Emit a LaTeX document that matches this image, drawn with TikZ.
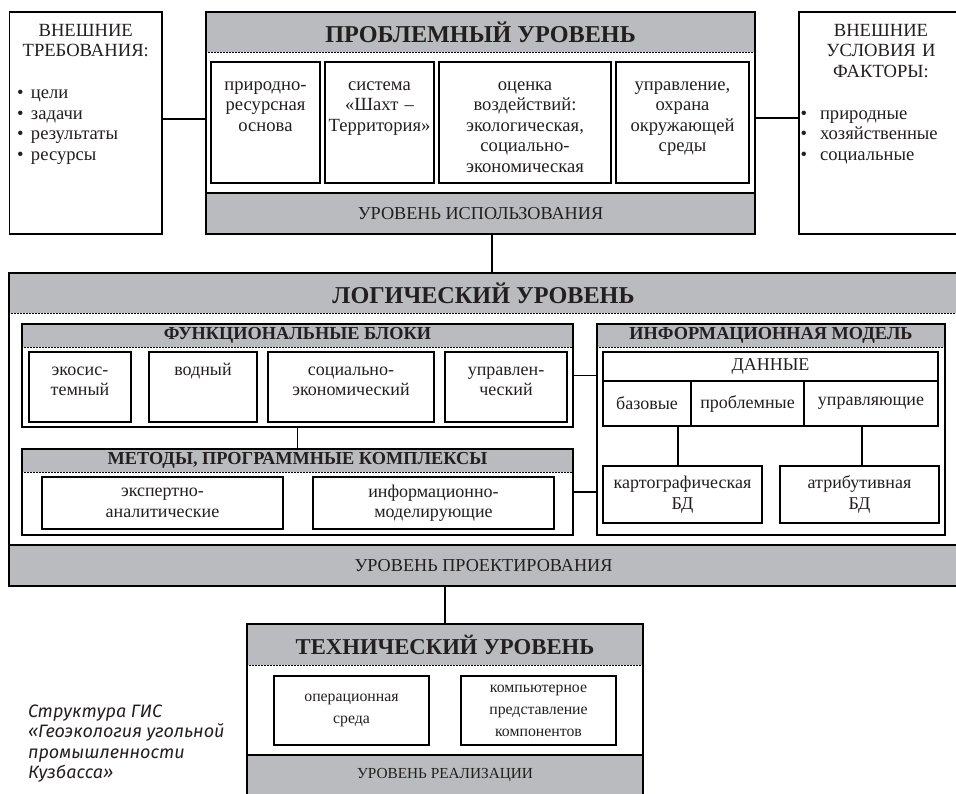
\documentclass[tikz,border=0pt]{standalone}
\usepackage{fontspec}
\setmainfont{Liberation Serif}
\newfontfamily\capfamily{Fira Sans}
\usetikzlibrary{positioning, calc}
\definecolor{bandgray}{RGB}{185,187,190}
\definecolor{ink}{RGB}{35,31,32}
\newcommand{\levelfont}{\fontsize{24.2}{26}\selectfont\bfseries}
\newcommand{\techfont}{\fontsize{22.7}{24}\selectfont\bfseries}
\newcommand{\blockfont}{\fontsize{18.3}{20}\selectfont\bfseries}
\newcommand{\bandfont}{\fontsize{18.2}{20}\selectfont}
\newcommand{\bodyfont}{\fontsize{18.6}{20.5}\selectfont}
\newcommand{\smallbody}{\fontsize{18}{20.5}\selectfont}
\newcommand{\techbody}{\fontsize{15.8}{22}\selectfont}
\newcommand{\capfont}{\fontsize{18}{20.2}\selectfont\capfamily\itshape}
\newcommand{\bul}[1][14pt]{\makebox[#1][l]{\textbullet}}

\begin{document}
\begin{tikzpicture}[
    x=1pt, y=-1pt,
    every node/.style={inner sep=0pt, outer sep=0pt, text=ink},
    area/.style={rectangle, anchor=north west, fill=white},
    frame/.style={draw=black, line width=1.5pt},
    subframe/.style={draw=black, line width=1.3pt},
    band/.style={rectangle, anchor=north west, fill=bandgray, align=center},
    rule/.style={draw=black, line width=1.8pt},
    sep/.style={densely dotted, line width=0.5pt},
    cell/.style={rectangle, anchor=north west, draw=black, line width=1.3pt,
        fill=white, align=center, font=\smallbody},
    topcell/.style 2 args={cell, text height=#1, text depth=#2},
    link/.style={draw=black, line width=1.2pt}
]
    \useasboundingbox (0,0) rectangle (956,793);
    \clip (0,0) rectangle (956,793);

    % --- outer requirements and conditions ---
    \node[area, frame, text width=152.5, text height=24, text depth=198, font=\bodyfont] (reqs) at (9.5,12) {%
        {\centering ВНЕШНИЕ\\ТРЕБОВАНИЯ:\par}
        \vspace{21.5pt}
        {\leftskip=7.5pt \bul цели\\ \bul задачи\\ \bul результаты\\ \bul ресурсы\par}};

    \node[area, frame, text width=164, text height=24, text depth=198, font=\bodyfont] (conds) at (799,12) {%
        {\centering ВНЕШНИЕ\\УСЛОВИЯ И\\ФАКТОРЫ:\par}
        \vspace{21.5pt}
        {\leftskip=1.5pt \bul[19.5pt]природные\\ \bul[19.5pt]хозяйственные\\ \bul[19.5pt]социальные\par}};

    % --- 1) problem level ---
    \node[area, minimum width=549, minimum height=222] (prob) at (206,12) {};
    \node[band, minimum width=549, minimum height=40, font=\levelfont] (probhead) at (prob.north west) {ПРОБЛЕМНЫЙ УРОВЕНЬ};
    \draw[sep] (probhead.south west) -- (probhead.south east);
    \node[band, minimum width=549, minimum height=41, font=\bandfont, anchor=south west] (probuse) at (prob.south west) {УРОВЕНЬ ИСПОЛЬЗОВАНИЯ};

    \node[topcell={28}{93}, text width=109, font=\bodyfont] (natural) at (211,62) {природно-\\ресурсная\\основа};
    \node[topcell={28}{93}, text width=109, font=\bodyfont] (mine) at (325,62) {система\\«Шахт --\\Территория»};
    \node[topcell={28}{93}, text width=172, font=\bodyfont] (impact) at (439,62) {оценка\\воздействий:\\экологическая,\\социально-\\экономическая};
    \node[topcell={28}{93}, text width=133, font=\bodyfont] (protect) at (616,62) {управление,\\охрана\\окружающей\\среды};

    \draw[frame] (prob.north west) rectangle (prob.south east);
    \draw[rule] (probuse.north west) -- (probuse.north east);

    % --- 2) logic level ---
    \node[area, minimum width=949, minimum height=313] (logic) at (9,273) {};
    \node[band, minimum width=949, minimum height=40, font=\levelfont] (logichead) at (logic.north west) {ЛОГИЧЕСКИЙ УРОВЕНЬ};
    \draw[sep] (logichead.south west) -- (logichead.south east);
    \node[band, minimum width=949, minimum height=41, font=\bandfont, anchor=south west] (logicuse) at (logic.south west) {УРОВЕНЬ ПРОЕКТИРОВАНИЯ};

    % functional blocks
    \node[area, minimum width=551, minimum height=103] (blocks) at (22,324) {};
    \node[band, minimum width=551, minimum height=23, font=\blockfont] (blockshead) at (blocks.north west) {ФУНКЦИОНАЛЬНЫЕ БЛОКИ};
    \draw[sep] (blockshead.south west) -- (blockshead.south east);
    \node[topcell={23}{47}, text width=102] (eco) at (29,352) {экосис-\\темный};
    \node[topcell={23}{47}, text width=108] (water) at (149,352) {водный};
    \node[topcell={23}{47}, text width=166] (socio) at (268,352) {социально-\\экономический};
    \node[topcell={23}{47}, text width=122] (mgmt) at (445,352) {управлен-\\ческий};
    \draw[subframe] (blocks.north west) rectangle (blocks.south east);

    % methods and program complexes
    \node[area, minimum width=551, minimum height=86] (methods) at (22,449) {};
    \node[band, minimum width=551, minimum height=23, font=\blockfont] (methodshead) at (methods.north west) {МЕТОДЫ, ПРОГРАММНЫЕ КОМПЛЕКСЫ};
    \draw[sep] (methodshead.south west) -- (methodshead.south east);
    \node[cell, text width=241, minimum height=52] (expert) at (42,477) {экспертно-\\аналитические};
    \node[cell, text width=241, minimum height=52] (infomod) at (313,477) {информационно-\\моделирующие};
    \draw[subframe] (methods.north west) rectangle (methods.south east);

    % information model
    \node[area, minimum width=348, minimum height=211] (model) at (597,324) {};
    \node[band, minimum width=348, minimum height=23, font=\blockfont] (modelhead) at (model.north west) {ИНФОРМАЦИОННАЯ МОДЕЛЬ};
    \draw[sep] (modelhead.south west) -- (modelhead.south east);
    \node[cell, text width=335, minimum height=29] (data) at (603,352) {ДАННЫЕ};
    \node[cell, text width=88, minimum height=45] (basic) at (603,381) {базовые};
    \node[cell, text width=113, minimum height=45] (probdata) at (691,381) {проблемные};
    \node[cell, text width=134, minimum height=45] (ctrl) at (804,381) {управляющие};
    \node[cell, text width=159, minimum height=57] (carto) at (603,466) {картографическая\\БД};
    \node[cell, text width=159, minimum height=57] (attr) at (780,466) {атрибутивная\\БД};
    \draw[subframe] (model.north west) rectangle (model.south east);

    \draw[frame] (logic.north west) rectangle (logic.south east);
    \draw[rule] (logicuse.north west) -- (logicuse.north east);

    % --- 3) technical level ---
    \node[area, minimum width=396, minimum height=172] (tech) at (247,624) {};
    \node[band, minimum width=396, minimum height=41, font=\techfont] (techhead) at (tech.north west) {ТЕХНИЧЕСКИЙ УРОВЕНЬ};
    \draw[sep] (techhead.south west) -- (techhead.south east);
    \node[band, minimum width=396, minimum height=41, font=\fontsize{15.3}{18}\selectfont, anchor=south west] (techuse) at (tech.south west) {УРОВЕНЬ РЕАЛИЗАЦИИ};
    \node[cell, text width=155, minimum height=69, font=\techbody] (opsys) at (274,676) {операционная\\среда};
    \node[cell, text width=155, minimum height=69, font=\techbody] (repr) at (461,676) {компьютерное\\представление\\компонентов};
    \draw[frame] (tech.north west) rectangle (tech.south east);
    \draw[rule] (techuse.north west) -- (techuse.north east);

    % --- connectors ---
    \draw[link] ([yshift=4]reqs.east) -- ([yshift=4]reqs.east -| prob.west);
    \draw[link] ([yshift=5]conds.west) -- ([yshift=5]conds.west -| prob.east);
    \draw[link] ([xshift=11.5]prob.south) -- ([xshift=11.5]prob.south |- logic.north);
    \draw[link] (blocks.south) -- (methods.north);
    \draw[link] (blocks.east) -- (blocks.east -| model.west);
    \draw[link] (methods.east) -- (methods.east -| model.west);
    \draw[link] ([xshift=-4.5]carto.north) -- ([xshift=-4.5]carto.north |- basic.south);
    \draw[link] ([xshift=2.5]attr.north) -- ([xshift=2.5]attr.north |- ctrl.south);
    \draw[link] (tech.north) -- (tech.north |- logic.south);

    % --- caption ---
    \node[anchor=north west, align=left, font=\capfont] (caption) at (28,705) {Структура ГИС\\«Геоэкология угольной\\промышленности\\Кузбасса»};
\end{tikzpicture}
\end{document}
